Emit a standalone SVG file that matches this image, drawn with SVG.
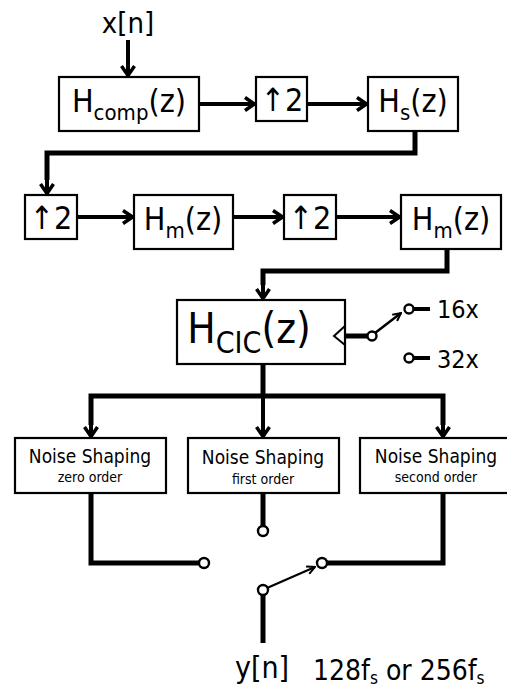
<svg xmlns="http://www.w3.org/2000/svg" width="507" height="687" viewBox="0 0 507 687">
<style>
.box{fill:#fff;stroke:#000;stroke-width:2.2}
.w{fill:none;stroke:#000;stroke-width:5;stroke-linejoin:miter;stroke-linecap:butt}
.a{fill:none;stroke:#000;stroke-width:4}
.t{font-family:"DejaVu Sans Condensed","DejaVu Sans",sans-serif;fill:#000}
.c{fill:#fff;stroke:#000;stroke-width:2.4}
</style>
<defs>
<marker id="ah" viewBox="0 0 14 16" refX="12" refY="8" markerWidth="14" markerHeight="16" markerUnits="userSpaceOnUse" orient="auto">
<path d="M2,1.5 L11.5,8 L2,14.5" fill="none" stroke="#000" stroke-width="3.5"/>
</marker>
<marker id="sh" viewBox="0 0 10 10" refX="9" refY="5" markerWidth="10" markerHeight="10" markerUnits="userSpaceOnUse" orient="auto">
<path d="M1,1 L9,5 L1,9" fill="none" stroke="#000" stroke-width="2"/>
</marker>
</defs>

<g id="connectors">
<line class="a" x1="128" y1="40" x2="128" y2="76" marker-end="url(#ah)"/>
<line class="a" x1="199" y1="104" x2="255" y2="104" marker-end="url(#ah)"/>
<line class="a" x1="307" y1="104" x2="367" y2="104" marker-end="url(#ah)"/>
<polyline class="w" points="415,131 415,153 47,153 47,180"/>
<line class="a" x1="47" y1="178" x2="47" y2="194" marker-end="url(#ah)"/>
<line class="a" x1="77" y1="217" x2="133" y2="217" marker-end="url(#ah)"/>
<line class="a" x1="233" y1="217" x2="283" y2="217" marker-end="url(#ah)"/>
<line class="a" x1="336" y1="217" x2="400" y2="217" marker-end="url(#ah)"/>
<polyline class="w" points="447,249 447,271 263,271 263,285"/>
<line class="a" x1="263" y1="283" x2="263" y2="299" marker-end="url(#ah)"/>
<line class="w" x1="345" y1="336" x2="368" y2="336"/>
<line x1="375" y1="333" x2="401" y2="313" stroke="#000" stroke-width="2.5" marker-end="url(#sh)"/>
<line class="a" x1="414" y1="309" x2="430" y2="309" stroke-width="2.5"/>
<line class="a" x1="414" y1="358" x2="430" y2="358" stroke-width="2.5"/>
<line class="w" x1="263" y1="364" x2="263" y2="396"/>
<polyline class="w" points="91,425 91,396 443,396 443,425"/>
<line class="a" x1="91" y1="420" x2="91" y2="437" marker-end="url(#ah)"/>
<line class="a" x1="263" y1="394" x2="263" y2="437" marker-end="url(#ah)"/>
<line class="a" x1="443" y1="420" x2="443" y2="437" marker-end="url(#ah)"/>
<polyline class="w" points="91,493 91,563 199,563"/>
<line class="w" x1="263" y1="493" x2="263" y2="526"/>
<polyline class="w" points="443,493 443,563 327,563"/>
<line x1="267" y1="588" x2="315" y2="567" stroke="#000" stroke-width="2.2" marker-end="url(#sh)"/>
<line class="w" x1="263" y1="595" x2="263" y2="643"/>
<circle class="c" cx="372" cy="336" r="4.5"/>
<circle class="c" cx="409" cy="309" r="4.5"/>
<circle class="c" cx="409" cy="358" r="4.5"/>
<circle class="c" cx="204" cy="563" r="5"/>
<circle class="c" cx="263" cy="531" r="5"/>
<circle class="c" cx="322" cy="563" r="5"/>
<circle class="c" cx="263" cy="590" r="5"/>
</g>

<g id="xn"><text class="t" x="128" y="33" font-size="29" text-anchor="middle">x[n]</text></g>

<g id="hcomp">
<rect class="box" x="59" y="77" width="140" height="54"/>
<text class="t" x="129" y="112" font-size="32" text-anchor="middle">H<tspan font-size="22" dy="8">comp</tspan><tspan dy="-8">(z)</tspan></text>
</g>

<g id="up1">
<rect class="box" x="256" y="77" width="51" height="44"/>
<text class="t" x="282" y="111" font-size="32" text-anchor="middle">↑2</text>
</g>

<g id="hs">
<rect class="box" x="368" y="77" width="90" height="54"/>
<text class="t" x="413" y="112" font-size="32" text-anchor="middle">H<tspan font-size="22" dy="8">s</tspan><tspan dy="-8">(z)</tspan></text>
</g>

<g id="up2">
<rect class="box" x="25" y="195" width="52" height="44"/>
<text class="t" x="51" y="229" font-size="32" text-anchor="middle">↑2</text>
</g>

<g id="hm1">
<rect class="box" x="134" y="195" width="99" height="54"/>
<text class="t" x="183" y="230" font-size="32" text-anchor="middle">H<tspan font-size="22" dy="8">m</tspan><tspan dy="-8">(z)</tspan></text>
</g>

<g id="up3">
<rect class="box" x="284" y="195" width="52" height="44"/>
<text class="t" x="310" y="229" font-size="32" text-anchor="middle">↑2</text>
</g>

<g id="hm2">
<rect class="box" x="401" y="195" width="100" height="54"/>
<text class="t" x="451" y="230" font-size="32" text-anchor="middle">H<tspan font-size="22" dy="8">m</tspan><tspan dy="-8">(z)</tspan></text>
</g>

<g id="hcic">
<rect class="box" x="177" y="300" width="168" height="64"/>
<polyline points="345,326 334,336 345,345" fill="none" stroke="#000" stroke-width="2"/>
<text class="t" x="249" y="343" font-size="42" text-anchor="middle">H<tspan font-size="30" dy="10">CIC</tspan><tspan dy="-10">(z)</tspan></text>
</g>

<g id="sel">
<text class="t" x="437" y="318" font-size="25">16x</text>
<text class="t" x="437" y="368" font-size="25">32x</text>
</g>

<g id="ns0">
<rect class="box" x="15" y="438" width="151" height="55"/>
<text class="t" x="90" y="463" font-size="19" text-anchor="middle">Noise Shaping</text>
<text class="t" x="90" y="482" font-size="14" text-anchor="middle">zero order</text>
</g>

<g id="ns1">
<rect class="box" x="188" y="438" width="151" height="55"/>
<text class="t" x="263" y="464" font-size="19" text-anchor="middle">Noise Shaping</text>
<text class="t" x="263" y="484" font-size="14" text-anchor="middle">first order</text>
</g>

<g id="ns2">
<rect class="box" x="360" y="438" width="150" height="55"/>
<text class="t" x="436" y="463" font-size="19" text-anchor="middle">Noise Shaping</text>
<text class="t" x="436" y="482" font-size="14" text-anchor="middle">second order</text>
</g>

<g id="out">
<text class="t" x="262" y="678" font-size="30" text-anchor="middle">y[n]</text>
<text class="t" x="313" y="680" font-size="28">128f<tspan font-size="17" dy="4">s</tspan><tspan dy="-4"> or 256f</tspan><tspan font-size="17" dy="4">s</tspan></text>
</g>
</svg>
